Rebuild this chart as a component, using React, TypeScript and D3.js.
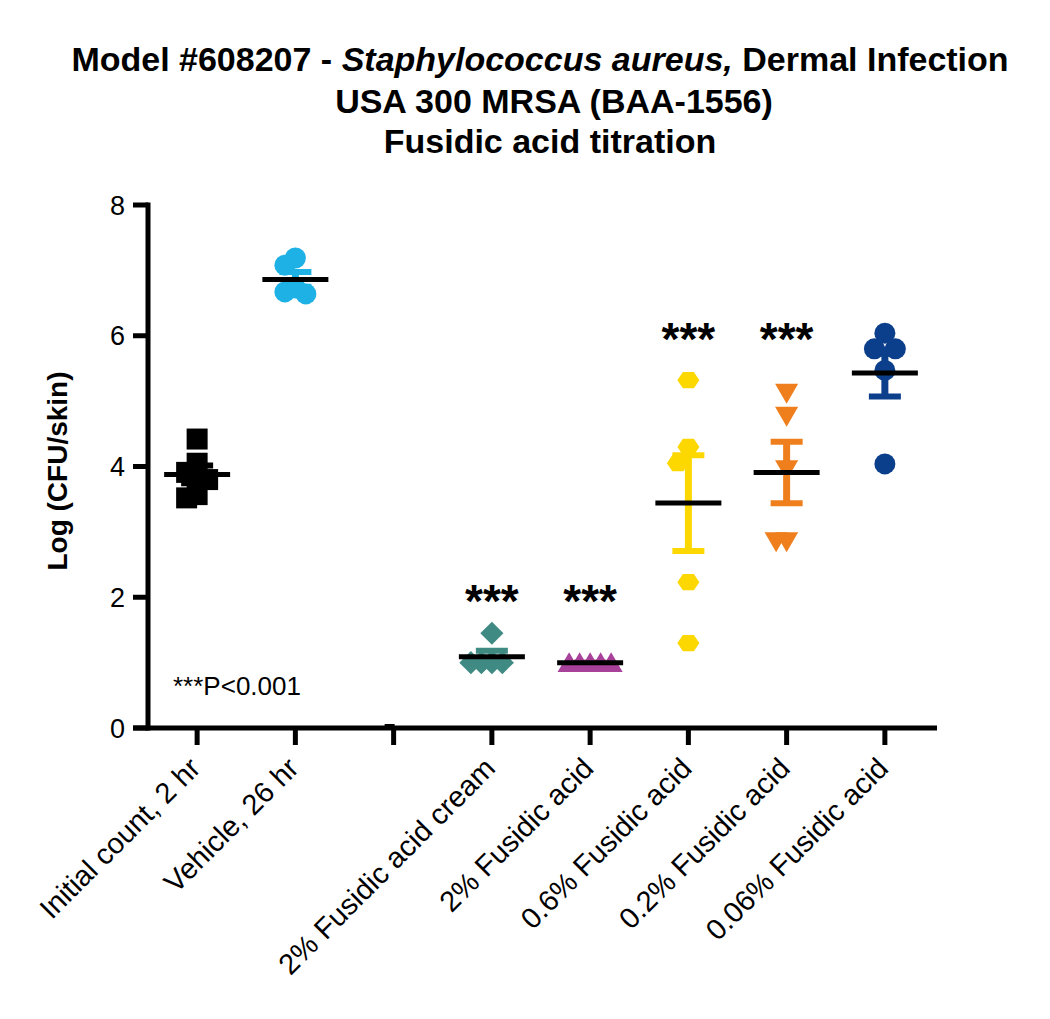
import React from "react";
import * as d3 from "d3";

// groups on the x axis (the third one is an empty spacer column)
const categories = [
  "Initial count, 2 hr",
  "Vehicle, 26 hr",
  "",
  "2% Fusidic acid cream",
  "2% Fusidic acid",
  "0.6% Fusidic acid",
  "0.2% Fusidic acid",
  "0.06% Fusidic acid",
];

// log CFU / skin for each animal
const initialCount = [4.42, 4.05, 3.91, 3.8, 3.57, 3.52];
const vehicle = [7.19, 7.08, 6.73, 6.67, 6.64];
const empty: number[] = [];
const cream2 = [1.45, 1.0, 1.0, 1.0, 1.0];
const acid2 = [1.0, 1.0, 1.0, 1.0, 1.0];
const acid06 = [5.32, 4.3, 4.05, 2.23, 1.3];
const acid02 = [5.12, 4.77, 3.95, 2.85, 2.85];
const acid006 = [6.04, 5.8, 5.8, 5.47, 4.04];

const seriesValues = [initialCount, vehicle, empty, cream2, acid2, acid06, acid02, acid006];
const seriesColors = ["#000000", "#1db1e5", "#000000", "#3f8b84", "#a8419a", "#fcd800", "#ef7f1d", "#0c3f8b"];
const seriesSymbols = ["square", "circle", "none", "diamond", "triangle", "hexagon", "triangleDown", "circle"];

// significance marks, at the value level of the text baseline
const sigLabels = ["", "", "", "***", "***", "***", "***", ""];
const sigLevels = [0, 0, 0, 1.7, 1.7, 5.7, 5.7, 0];

const yTicks = [0, 2, 4, 6, 8];

const W = 1050;
const H = 1019;
const left = 148;
const right = 934;
const top = 205;
const bottom = 728;

const FONT = "'Liberation Sans', Arial, Helvetica, sans-serif";

function symbolPath(kind: string, s: number) {
  const p = d3.path();
  const h = s / 2;
  if (kind === "square") {
    p.rect(-h, -h, s, s);
  } else if (kind === "circle") {
    p.arc(0, 0, h, 0, Math.PI * 2);
  } else if (kind === "diamond") {
    const r = h * 1.1;
    p.moveTo(0, -r); p.lineTo(r, 0); p.lineTo(0, r); p.lineTo(-r, 0);
  } else if (kind === "triangle") {
    p.moveTo(0, -h); p.lineTo(h * 1.1, h * 0.9); p.lineTo(-h * 1.1, h * 0.9);
  } else if (kind === "triangleDown") {
    p.moveTo(0, h); p.lineTo(h * 1.1, -h * 0.9); p.lineTo(-h * 1.1, -h * 0.9);
  } else if (kind === "hexagon") {
    const r = h * 1.05;
    for (let i = 0; i < 6; i++) {
      const a = (Math.PI / 3) * i;
      const px = r * Math.cos(a);
      const py = r * Math.sin(a) * 0.85;
      if (i === 0) p.moveTo(px, py); else p.lineTo(px, py);
    }
  }
  p.closePath();
  return p.toString();
}

// spread points of similar value sideways, like a column scatter
function dodge(ys: number[], size: number) {
  const step = size * 0.5;
  const placed: { x: number; y: number }[] = [];
  return ys.map((y) => {
    for (let k = 0; k < 40; k++) {
      const off = k === 0 ? 0 : (k % 2 === 1 ? -1 : 1) * Math.ceil(k / 2) * step;
      const ok = placed.every((q) => Math.abs(q.y - y) >= size * 1.05 || Math.abs(q.x - off) >= step * 0.99);
      if (ok) {
        placed.push({ x: off, y });
        return off;
      }
    }
    return 0;
  });
}

export default function App() {
  const keys = categories.map((c, i) => c + "#" + i);
  const x = d3.scaleBand<string>().domain(keys).range([left, right]);
  const y = d3.scaleLinear().domain([0, 8]).range([bottom, top]);
  const bw = x.bandwidth();
  const size = 21;

  return (
    <svg width={W} height={H} style={{ position: "absolute", left: 0, top: 0, background: "#fff" }} fontFamily={FONT}>
      {/* title */}
      <text x={540} y={71} textAnchor="middle" fontSize={34} fontWeight="bold">
        Model #608207 - <tspan fontStyle="italic">Staphylococcus aureus,</tspan> Dermal Infection
      </text>
      <text x={554} y={113} textAnchor="middle" fontSize={34} fontWeight="bold">USA 300 MRSA (BAA-1556)</text>
      <text x={550} y={153} textAnchor="middle" fontSize={34} fontWeight="bold">Fusidic acid titration</text>

      {/* data */}
      {seriesValues.map((vals, i) => {
        const cx = (x(keys[i]) ?? 0) + bw / 2;
        const color = seriesColors[i];
        if (vals.length === 0) {
          return <line key={i} x1={cx - 9} x2={cx + 1} y1={y(0) - 2} y2={y(0) - 2} stroke="#000" strokeWidth={4} />;
        }
        const mean = d3.mean(vals) ?? 0;
        const sem = (d3.deviation(vals) ?? 0) / Math.sqrt(vals.length);
        const offs = dodge(vals.map((v) => y(v)), size);
        return (
          <g key={i}>
            {vals.map((v, j) => (
              <path key={j} d={symbolPath(seriesSymbols[i], size)} transform={`translate(${cx + offs[j]},${y(v)})`} fill={color} />
            ))}
            <line x1={cx} x2={cx} y1={y(mean + sem)} y2={y(mean - sem)} stroke={color} strokeWidth={7} />
            <line x1={cx - 16} x2={cx + 16} y1={y(mean + sem)} y2={y(mean + sem)} stroke={color} strokeWidth={6} />
            <line x1={cx - 16} x2={cx + 16} y1={y(mean - sem)} y2={y(mean - sem)} stroke={color} strokeWidth={6} />
            <line x1={cx - 33} x2={cx + 33} y1={y(mean)} y2={y(mean)} stroke="#000" strokeWidth={5} />
          </g>
        );
      })}

      {/* significance */}
      {sigLabels.map((s, i) =>
        s ? (
          <text key={i} x={(x(keys[i]) ?? 0) + bw / 2} y={y(sigLevels[i])} textAnchor="middle" fontSize={46} fontWeight="bold">
            {s}
          </text>
        ) : null
      )}
      <text x={left + 25} y={y(0.5)} fontSize={26}>***P&lt;0.001</text>

      {/* y axis */}
      <line x1={left} x2={left} y1={top - 2.5} y2={bottom + 2.5} stroke="#000" strokeWidth={5} />
      {yTicks.map((t) => (
        <g key={t}>
          <line x1={left - 15} x2={left} y1={y(t)} y2={y(t)} stroke="#000" strokeWidth={5} />
          <text x={left - 23} y={y(t)} dy="0.36em" textAnchor="end" fontSize={27}>{t}</text>
        </g>
      ))}
      <text transform={`translate(67,471) rotate(-90)`} textAnchor="middle" fontSize={28} fontWeight="bold">
        Log (CFU/skin)
      </text>

      {/* x axis */}
      <line x1={left - 15} x2={right + 3} y1={bottom} y2={bottom} stroke="#000" strokeWidth={5} />
      {keys.map((k, i) => {
        const cx = (x(k) ?? 0) + bw / 2;
        return (
          <g key={k}>
            <line x1={cx} x2={cx} y1={bottom} y2={bottom + 17} stroke="#000" strokeWidth={5} />
            <text transform={`translate(${cx + 5},${bottom + 42}) rotate(-45)`} textAnchor="end" fontSize={29}>
              {categories[i]}
            </text>
          </g>
        );
      })}
    </svg>
  );
}
